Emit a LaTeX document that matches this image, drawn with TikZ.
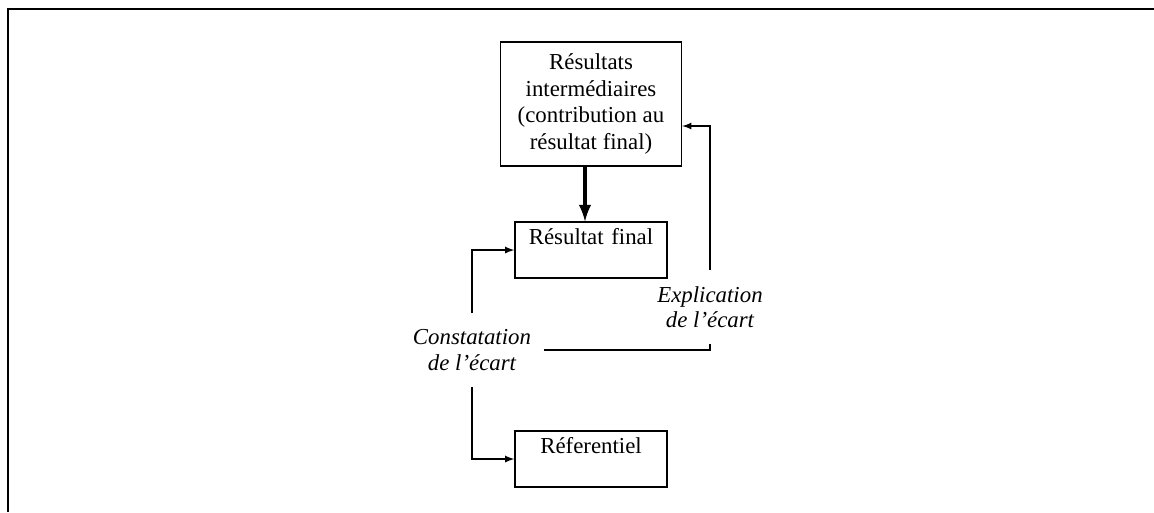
\documentclass[tikz,border=0pt]{standalone}
\usepackage{fontspec}
\setmainfont{Liberation Serif}
\usepackage{tikz}
\usetikzlibrary{arrows}

\begin{document}
\begin{tikzpicture}
		[
		x = 0.02cm, y = -0.02cm,
		font = \fontsize{13}{15}\selectfont,
		box/.style = {draw, thick, align=center, inner sep=0pt},
		smallbox/.style = {box, text width=3.04cm, text height=12.5pt, text depth=19.3pt},
		remark/.style = {align=center, font=\fontsize{13}{14.5}\selectfont\itshape, inner xsep=7pt, inner ysep=9pt},
		link/.style = {thick, -latex},
		mainlink/.style = {line width=2.2pt, -latex}
		]
		
		\useasboundingbox (0,0) rectangle (1154,512);
		\draw[line width=1.5pt] (1154,9) -- (8,9) -- (8,512);
		
		\node [box, minimum width=3.62cm, minimum height=2.48cm] (inter) at (591,104)
			{Résultats\\intermédiaires\\(contribution au\\résultat final)};
		\node [smallbox] (final) at (591,250) {Résultat final};
		\node [smallbox] (ref) at (591,459) {Réferentiel};
		
		\node [remark] (const) at (472,350) {Constatation\\de l’écart};
		\node [remark] (expl) at (710,307) {Explication\\de l’écart};
		
		\draw [mainlink] ([xshift=-0.12cm]inter.south) -- ([xshift=-0.12cm]inter.south |- final.north);
		\draw [link] (const.north) |- (final.west);
		\draw [link] (const.south) |- (ref.west);
		\draw [thick] (const.east) -| (expl.south);
		\draw [link] (expl.north) |- ([yshift=-0.44cm]inter.east);
		
\end{tikzpicture}
\end{document}
